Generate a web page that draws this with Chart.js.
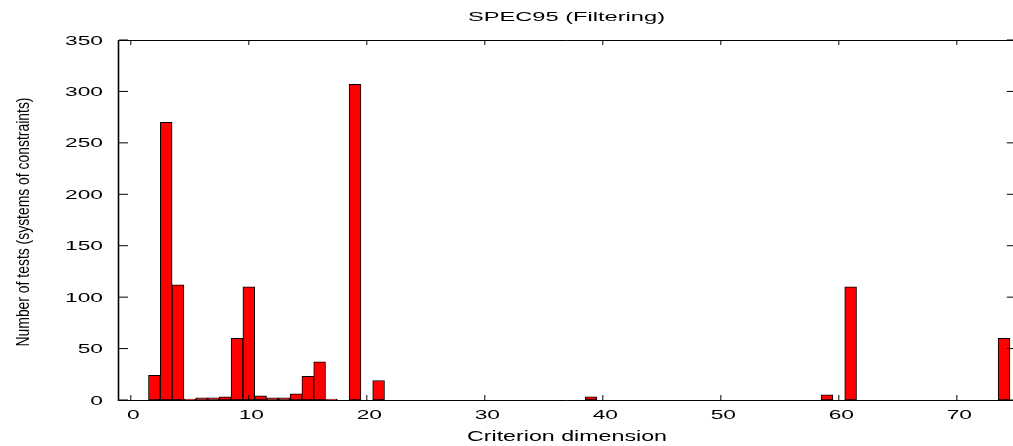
<!DOCTYPE html>
<html>
<head>
<meta charset="utf-8">
<script src="https://cdn.jsdelivr.net/npm/chart.js@4/dist/chart.umd.min.js"></script>
<style>
  html, body { margin: 0; padding: 0; background: #fff; }
  canvas { display: block; }
</style>
</head>
<body>
<canvas id="c" width="1013" height="446" style="width:1013px;height:446px"></canvas>
<script>
// ---- data ----
const dimensions = [2, 3, 4, 5, 6, 7, 8, 9, 10, 11, 12, 13, 14, 15, 16, 17, 19, 21, 39, 59, 61, 74];
const testCounts = [24, 270, 112, 1, 2, 2, 3, 60, 110, 4, 2, 2, 6, 23, 37, 1, 307, 19, 3, 5, 110, 60];
const xTickLabels = [0, 10, 20, 30, 40, 50, 60, 70];
const yTickLabels = [0, 50, 100, 150, 200, 250, 300, 350];
const chartTitle = 'SPEC95 (Filtering)';
const xTitle = 'Criterion dimension';
const yTitle = 'Number of tests (systems of constraints)';
const xRangeEnd = 75;   // true right end of the plot frame (just past the canvas edge)

const FONT = '"Liberation Sans", Arial, Helvetica, sans-serif';

function stretchedText(ctx, text, x, y, size, opts) {
  ctx.save();
  ctx.font = size + 'px ' + FONT;
  ctx.fillStyle = '#000';
  ctx.textBaseline = opts.baseline || 'alphabetic';
  const w = ctx.measureText(text).width;
  const sx = opts.width ? opts.width / w : (opts.sx || 1);
  ctx.translate(x, y);
  if (opts.rotate) ctx.rotate(opts.rotate);
  ctx.scale(sx, 1);
  ctx.textAlign = opts.align || 'left';
  ctx.fillText(text, 0, 0);
  ctx.restore();
}

const framePlugin = {
  id: 'frame',
  afterDraw(chart) {
    const ctx = chart.ctx;
    const a = chart.chartArea;
    const xs = chart.scales.x, ys = chart.scales.y;
    const right = xs.getPixelForValue(xRangeEnd);
    ctx.save();
    ctx.strokeStyle = '#000';
    // ticks
    ctx.lineWidth = 1;
    ctx.beginPath();
    yTickLabels.forEach(v => {
      const py = ys.getPixelForValue(v);
      ctx.moveTo(a.left, py); ctx.lineTo(a.left + 9, py);
      ctx.moveTo(right - 9, py); ctx.lineTo(right, py);
    });
    xTickLabels.forEach(v => {
      const px = xs.getPixelForValue(v);
      ctx.moveTo(px, a.bottom); ctx.lineTo(px, a.bottom - 5);
      ctx.moveTo(px, a.top); ctx.lineTo(px, a.top + 5);
    });
    ctx.stroke();
    // frame
    ctx.lineWidth = 1;
    ctx.beginPath();
    ctx.moveTo(a.left, a.top + 0.5); ctx.lineTo(right, a.top + 0.5);
    ctx.moveTo(a.left, a.bottom + 0.5); ctx.lineTo(right, a.bottom + 0.5);
    ctx.stroke();
    ctx.lineWidth = 1.6;
    ctx.beginPath();
    ctx.moveTo(a.left - 0.5, a.top); ctx.lineTo(a.left - 0.5, a.bottom + 1);
    ctx.moveTo(right, a.top); ctx.lineTo(right, a.bottom + 1);
    ctx.stroke();
    ctx.restore();

    // tick labels
    yTickLabels.forEach(v => {
      stretchedText(ctx, String(v), 103, ys.getPixelForValue(v) + 4.6, 13, { sx: 1.75, align: 'right' });
    });
    xTickLabels.forEach(v => {
      stretchedText(ctx, String(v), xs.getPixelForValue(v) + 2.5, 419, 13, { sx: 1.75, align: 'center' });
    });
    // titles
    stretchedText(ctx, chartTitle, 468, 21, 12, { width: 197, align: 'left' });
    stretchedText(ctx, xTitle, 467, 441, 14.5, { width: 200, align: 'left' });
    // y title (rotated)
    ctx.save();
    ctx.font = '18.6px ' + FONT;
    ctx.fillStyle = '#000';
    const w = ctx.measureText(yTitle).width;
    ctx.translate(28.5, 222);
    ctx.rotate(-Math.PI / 2);
    ctx.scale(249 / w, 1);
    ctx.textAlign = 'center';
    ctx.textBaseline = 'alphabetic';
    ctx.fillText(yTitle, 0, 0);
    ctx.restore();
  }
};

new Chart(document.getElementById('c'), {
  type: 'bar',
  data: {
    datasets: [{
      data: dimensions.map((d, i) => ({ x: d, y: testCounts[i] })),
      backgroundColor: '#ff0000',
      borderColor: '#000000',
      borderWidth: 1,
      borderSkipped: false,
      barPercentage: 1,
      categoryPercentage: 1
    }]
  },
  options: {
    responsive: false,
    animation: false,
    devicePixelRatio: 1,
    layout: { padding: { top: 40, right: 0, left: 0, bottom: 0 } },
    plugins: { legend: { display: false }, tooltip: { enabled: false }, title: { display: false } },
    scales: {
      x: {
        type: 'linear', min: -1, max: 74.76, offset: false,
        grid: { display: false }, border: { display: false },
        ticks: { display: false },
        afterFit(s) { s.height = 46; s.paddingLeft = 0; s.paddingRight = 0; }
      },
      y: {
        type: 'linear', min: 0, max: 350,
        grid: { display: false }, border: { display: false },
        ticks: { display: false },
        afterFit(s) { s.width = 119; s.paddingTop = 0; s.paddingBottom = 0; }
      }
    }
  },
  plugins: [framePlugin]
});
</script>
</body>
</html>
